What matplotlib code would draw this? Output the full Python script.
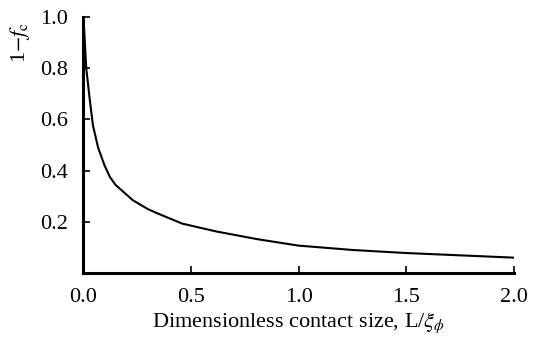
import matplotlib
matplotlib.use("Agg")
import matplotlib.pyplot as plt

# values
contact_size = [0.0, 0.005, 0.015, 0.031, 0.046, 0.07, 0.10, 0.125, 0.15, 0.19,
                0.23, 0.30, 0.34, 0.46, 0.62, 0.81, 1.0, 1.25, 1.5, 1.75, 2.0]
one_minus_fc = [1.0, 0.955, 0.80, 0.68, 0.577, 0.49, 0.42, 0.375, 0.345, 0.315,
                0.285, 0.25, 0.235, 0.193, 0.162, 0.132, 0.107, 0.09, 0.078, 0.069, 0.06]
x_ticks = [0.0, 0.5, 1.0, 1.5, 2.0]
x_ticklabels = ["0.0", "0.5", "1.0", "1.5", "2.0"]
y_ticks = [0.2, 0.4, 0.6, 0.8, 1.0]

plt.rcParams["font.family"] = ["Liberation Serif", "DejaVu Serif"]
plt.rcParams["mathtext.fontset"] = "stix"

fig = plt.figure(figsize=(5.44, 3.41), dpi=100)
ax = fig.add_axes([0.1526, 0.1994, 0.7924, 0.7506])

ax.plot(contact_size, one_minus_fc, color="black", lw=1.5)

ax.set_xlim(0, 2.0)
ax.set_ylim(0, 1.0)
ax.set_xticks(x_ticks)
ax.set_xticklabels(x_ticklabels)
ax.set_yticks(y_ticks)
ax.tick_params(direction="in", length=5, width=1.2, labelsize=16)
ax.tick_params(axis="y", pad=11)
ax.tick_params(axis="x", pad=11)

for side in ["top", "right"]:
    ax.spines[side].set_visible(False)
for side in ["left", "bottom"]:
    ax.spines[side].set_linewidth(2.2)

ax.set_xlabel(r"Dimensionless contact size, L/$\xi_{\phi}$", fontsize=16, labelpad=2)
ax.set_ylabel(r"1$-f_{\mathrm{c}}$", fontsize=16)
ax.yaxis.set_label_coords(-0.118, 0.90)

fig.savefig("out.png", dpi=100)
